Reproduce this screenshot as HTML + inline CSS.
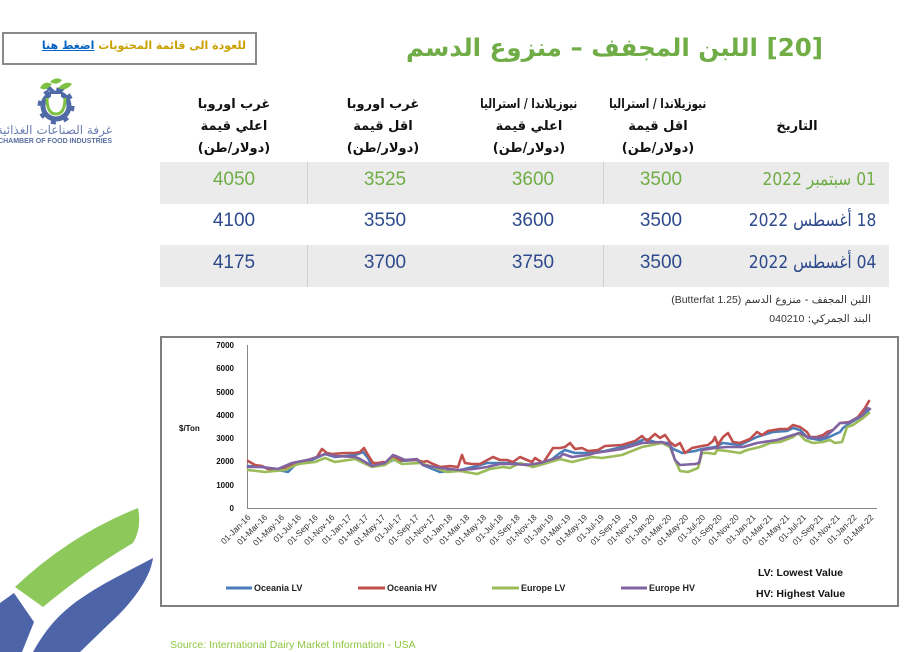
<!DOCTYPE html>
<html><head><meta charset="utf-8">
<style>
html,body{margin:0;padding:0;background:#fff;}
body{width:918px;height:652px;position:relative;overflow:hidden;font-family:"Liberation Sans","DejaVu Sans",sans-serif;}
.a{position:absolute;white-space:nowrap;}
.ar{font-family:"DejaVu Sans",sans-serif;direction:rtl;}
.hdr{font-family:"DejaVu Sans",sans-serif;font-weight:bold;font-size:13px;color:#111;text-align:center;direction:rtl;width:160px;margin-left:-80px;line-height:22px;}
.sq{display:inline-block;transform:scaleX(0.8);transform-origin:center;}
.num{font-family:"Liberation Sans",sans-serif;font-size:19px;width:80px;margin-left:-40px;text-align:center;}
.row{position:absolute;left:160px;width:729px;}
.dt{transform:scaleX(0.86);transform-origin:right center;}
</style></head><body>

<!-- back box -->
<div class="a" style="left:2px;top:32px;width:251px;height:29px;border:2px solid #8a8a8a;"></div>
<div class="a ar" style="right:672px;top:37px;font-size:11px;font-weight:bold;color:#c9a100;line-height:18px;">للعودة الى قائمة المحتويات <span style="color:#0563c1;text-decoration:underline;">اضغط هنا</span></div>

<!-- title -->
<div class="a ar" style="right:95px;top:30px;font-size:24.5px;font-weight:bold;color:#70ad47;line-height:36px;">[20] اللبن المجفف – منزوع الدسم</div>

<!-- column headers -->
<div class="a hdr" style="left:234px;top:94px;">غرب اوروبا<br>اعلي قيمة<br>(دولار/طن)</div>
<div class="a hdr" style="left:383px;top:94px;">غرب اوروبا<br>اقل قيمة<br>(دولار/طن)</div>
<div class="a hdr" style="left:529px;top:94px;"><span class="sq">نيوزيلاندا / استراليا</span><br>اعلي قيمة<br>(دولار/طن)</div>
<div class="a hdr" style="left:658px;top:94px;"><span class="sq">نيوزيلاندا / استراليا</span><br>اقل قيمة<br>(دولار/طن)</div>
<div class="a hdr" style="left:797px;top:116px;">التاريخ</div>

<!-- table rows -->
<div class="row" style="top:162px;height:42px;background:#ebebeb;"></div>
<div class="row" style="top:245px;height:42px;background:#ebebeb;"></div>
<div class="a" style="left:307px;top:162px;width:1px;height:42px;background:#d0d0d0;"></div>
<div class="a" style="left:603px;top:162px;width:1px;height:42px;background:#d0d0d0;"></div>
<div class="a" style="left:307px;top:245px;width:1px;height:42px;background:#d0d0d0;"></div>
<div class="a" style="left:603px;top:245px;width:1px;height:42px;background:#d0d0d0;"></div>

<div class="a num" style="left:234px;top:169px;color:#70ad47;">4050</div>
<div class="a num" style="left:385px;top:169px;color:#70ad47;">3525</div>
<div class="a num" style="left:533px;top:169px;color:#70ad47;">3600</div>
<div class="a num" style="left:661px;top:169px;color:#70ad47;">3500</div>
<div class="a ar dt" style="right:42px;top:169px;font-size:18px;color:#70ad47;">01 سبتمبر 2022</div>

<div class="a num" style="left:234px;top:210px;color:#2e4a8c;">4100</div>
<div class="a num" style="left:385px;top:210px;color:#2e4a8c;">3550</div>
<div class="a num" style="left:533px;top:210px;color:#2e4a8c;">3600</div>
<div class="a num" style="left:661px;top:210px;color:#2e4a8c;">3500</div>
<div class="a ar dt" style="right:42px;top:210px;font-size:18px;color:#2e4a8c;">18 أغسطس 2022</div>

<div class="a num" style="left:234px;top:252px;color:#2e4a8c;">4175</div>
<div class="a num" style="left:385px;top:252px;color:#2e4a8c;">3700</div>
<div class="a num" style="left:533px;top:252px;color:#2e4a8c;">3750</div>
<div class="a num" style="left:661px;top:252px;color:#2e4a8c;">3500</div>
<div class="a ar dt" style="right:42px;top:252px;font-size:18px;color:#2e4a8c;">04 أغسطس 2022</div>

<!-- notes -->
<div class="a ar" style="right:47px;top:292px;font-size:10.5px;color:#333;line-height:16px;">اللبن المجفف - منزوع الدسم <span style="font-family:'Liberation Sans';">(1.25 Butterfat)</span></div>
<div class="a ar" style="right:47px;top:311px;font-size:10.5px;color:#333;line-height:16px;">البند الجمركي: <span style="font-family:'Liberation Sans';">040210</span></div>

<!-- logo text -->
<div class="a ar" style="right:806px;top:123px;font-size:12px;color:#6a7fb0;line-height:14px;">غرفة الصناعات الغذائية</div>
<div class="a" style="right:806px;top:138px;font-size:7px;font-weight:bold;color:#5a6f9f;line-height:8px;">CHAMBER OF FOOD INDUSTRIES</div>

<!-- source -->
<div class="a" style="left:170px;top:638px;font-size:10.5px;color:#8dc63f;line-height:14px;">Source: International Dairy Market Information - USA</div>

<svg class="a" style="left:0;top:0;" width="918" height="652" viewBox="0 0 918 652" xmlns="http://www.w3.org/2000/svg">
  <!-- logo graphic -->
  <g>
    <circle cx="56" cy="106" r="13" fill="none" stroke="#4f6aa6" stroke-width="5"/>
    <circle cx="56" cy="106" r="16.5" fill="none" stroke="#4f6aa6" stroke-width="4" stroke-dasharray="5 8"/>
    <path d="M47,98 Q47,114 56,114 Q65,114 65,98" fill="none" stroke="#7dc142" stroke-width="3"/>
    <path d="M44,86 L56,98 L68,86 L64,84 L56,92 L48,84 Z" fill="#4f6aa6"/>
    <path d="M50,82 Q56,76 62,80 Q58,86 50,82 Z" fill="#7dc142"/>
    <path d="M58,88 Q66,80 72,84 Q66,92 58,88 Z" fill="#7dc142"/>
    <path d="M40,88 Q44,80 52,84 Q46,92 40,88 Z" fill="#7dc142"/>
    <rect x="51" y="94" width="10" height="6" fill="#fff"/>
  </g>

  <!-- decorative bottom-left -->
  <path d="M15,587 Q70,535 138,508 Q142,528 133,543 Q90,568 43,607 Z" fill="#8cc85a"/>
  <path d="M153,558 C150,580 130,605 110,623 L80,652 L33,652 C45,630 60,612 83,597 C105,582 125,573 153,558 Z" fill="#4d65a8"/>
  <path d="M0,603 L14,593 L34,622 L22,652 L0,652 Z" fill="#4d65a8"/>

  <!-- chart frame -->
  <rect x="161" y="337" width="737" height="269" fill="none" stroke="#7f7f7f" stroke-width="2"/>

  <!-- axes -->
  <line x1="247.5" y1="345" x2="247.5" y2="508.5" stroke="#868686" stroke-width="1"/>
  <line x1="247" y1="508.5" x2="877" y2="508.5" stroke="#868686" stroke-width="1"/>

  <g font-family="Liberation Sans, sans-serif" font-size="8" font-weight="bold" fill="#111" text-anchor="end">
    <text x="234" y="348">7000</text>
    <text x="234" y="371">6000</text>
    <text x="234" y="395">5000</text>
    <text x="234" y="418">4000</text>
    <text x="234" y="441">3000</text>
    <text x="234" y="464">2000</text>
    <text x="234" y="488">1000</text>
    <text x="234" y="511">0</text>
  </g>
  <text x="179" y="431" font-family="Liberation Sans, sans-serif" font-size="8" font-weight="bold" fill="#111">$/Ton</text>

  <!-- x labels -->
  <g font-family="Liberation Sans, sans-serif" font-size="8.4" fill="#333" text-anchor="end">
    <text transform="translate(251,518) rotate(-45)">01-Jan-16</text>
    <text transform="translate(267.8,518) rotate(-45)">01-Mar-16</text>
    <text transform="translate(284.7,518) rotate(-45)">01-May-16</text>
    <text transform="translate(301.5,518) rotate(-45)">01-Jul-16</text>
    <text transform="translate(318.4,518) rotate(-45)">01-Sep-16</text>
    <text transform="translate(335.2,518) rotate(-45)">01-Nov-16</text>
    <text transform="translate(352,518) rotate(-45)">01-Jan-17</text>
    <text transform="translate(368.9,518) rotate(-45)">01-Mar-17</text>
    <text transform="translate(385.7,518) rotate(-45)">01-May-17</text>
    <text transform="translate(402.6,518) rotate(-45)">01-Jul-17</text>
    <text transform="translate(419.4,518) rotate(-45)">01-Sep-17</text>
    <text transform="translate(436.2,518) rotate(-45)">01-Nov-17</text>
    <text transform="translate(453.1,518) rotate(-45)">01-Jan-18</text>
    <text transform="translate(469.9,518) rotate(-45)">01-Mar-18</text>
    <text transform="translate(486.8,518) rotate(-45)">01-May-18</text>
    <text transform="translate(503.6,518) rotate(-45)">01-Jul-18</text>
    <text transform="translate(520.4,518) rotate(-45)">01-Sep-18</text>
    <text transform="translate(537.3,518) rotate(-45)">01-Nov-18</text>
    <text transform="translate(554.1,518) rotate(-45)">01-Jan-19</text>
    <text transform="translate(571,518) rotate(-45)">01-Mar-19</text>
    <text transform="translate(587.8,518) rotate(-45)">01-May-19</text>
    <text transform="translate(604.6,518) rotate(-45)">01-Jul-19</text>
    <text transform="translate(621.5,518) rotate(-45)">01-Sep-19</text>
    <text transform="translate(638.3,518) rotate(-45)">01-Nov-19</text>
    <text transform="translate(655.2,518) rotate(-45)">01-Jan-20</text>
    <text transform="translate(672,518) rotate(-45)">01-Mar-20</text>
    <text transform="translate(688.8,518) rotate(-45)">01-May-20</text>
    <text transform="translate(705.7,518) rotate(-45)">01-Jul-20</text>
    <text transform="translate(722.5,518) rotate(-45)">01-Sep-20</text>
    <text transform="translate(739.4,518) rotate(-45)">01-Nov-20</text>
    <text transform="translate(756.2,518) rotate(-45)">01-Jan-21</text>
    <text transform="translate(773,518) rotate(-45)">01-Mar-21</text>
    <text transform="translate(789.9,518) rotate(-45)">01-May-21</text>
    <text transform="translate(806.7,518) rotate(-45)">01-Jul-21</text>
    <text transform="translate(823.6,518) rotate(-45)">01-Sep-21</text>
    <text transform="translate(840.4,518) rotate(-45)">01-Nov-21</text>
    <text transform="translate(857.2,518) rotate(-45)">01-Jan-22</text>
    <text transform="translate(874.1,518) rotate(-45)">01-Mar-22</text>
  </g>

  <!-- series -->
  <g fill="none" stroke-width="2.6" stroke-linejoin="round" stroke-linecap="round">
    <polyline stroke="#4a7ebb" points="248,466 262,467 278,470 288,472 295,465 312,460 325,454 335,457 355,455 363,452 368,458 372,466 385,464 393,460 400,461 417,460 423,465 440,472 460,470 473,467 487,463 500,463 513,463 533,465 547,463 560,453 565,450 575,453 588,453 605,451 622,447 638,442 645,439 655,442 668,443 673,449 678,451 682,453 695,451 702,449 715,447 723,443 740,445 757,437 763,435 773,432 787,431 793,428 800,430 808,438 820,440 827,438 840,432 843,428 850,423 860,417 867,413 869,409"/>
    <polyline stroke="#c0504d" points="248,461 255,465 262,466 268,469 278,470 288,467 295,463 308,460 317,457 322,449 327,453 332,454 345,453 355,453 360,452 364,448 368,455 373,463 378,463 383,462 388,463 393,458 400,460 410,460 417,460 423,462 427,461 433,464 440,467 450,466 458,467 462,455 465,463 472,464 480,464 493,457 500,460 507,460 513,462 520,457 527,460 532,462 535,458 543,463 553,448 560,448 565,447 570,443 575,449 582,448 588,451 598,450 605,446 622,445 635,441 642,436 647,441 655,434 660,438 665,435 670,442 675,446 680,443 685,453 692,448 702,446 708,445 713,441 715,437 718,445 723,437 728,433 733,442 740,443 750,439 757,432 762,435 768,431 780,429 788,429 793,425 800,427 807,432 810,437 817,437 823,435 827,432 833,430 840,423 850,422 858,417 865,408 869,401"/>
    <polyline stroke="#9bbb59" points="248,470 265,472 285,470 298,464 315,462 325,458 335,462 355,459 372,467 385,465 393,459 402,464 420,463 433,467 447,472 460,471 477,474 490,469 503,467 510,468 520,463 533,467 547,463 560,459 572,462 592,457 602,458 622,455 642,447 662,443 670,447 675,460 680,471 688,472 698,468 702,453 708,453 715,454 717,450 727,451 740,453 747,450 760,447 770,443 780,442 793,437 798,433 805,440 813,443 823,442 830,440 835,443 842,442 847,427 853,425 863,418 869,413"/>
    <polyline stroke="#8064a2" points="248,467 262,467 278,469 292,463 312,459 325,454 335,456 355,457 360,459 372,466 385,463 393,455 398,457 405,460 417,459 423,465 440,468 460,470 473,469 487,467 500,464 513,464 527,465 540,463 553,459 560,457 563,454 572,457 588,455 595,453 622,449 642,443 662,442 670,445 675,460 680,465 695,464 699,463 702,450 715,448 727,447 743,447 757,443 777,440 793,435 800,433 807,437 817,438 825,437 833,430 840,423 847,423 853,420 863,415 867,408 870,409"/>
  </g>

  <!-- legend -->
  <g stroke-width="3">
    <line x1="226" y1="588" x2="252" y2="588" stroke="#4a7ebb"/>
    <line x1="358" y1="588" x2="385" y2="588" stroke="#c0504d"/>
    <line x1="492" y1="588" x2="519" y2="588" stroke="#9bbb59"/>
    <line x1="621" y1="588" x2="647" y2="588" stroke="#8064a2"/>
  </g>
  <g font-family="Liberation Sans, sans-serif" font-size="9" font-weight="bold" fill="#222">
    <text x="254" y="591">Oceania LV</text>
    <text x="387" y="591">Oceania HV</text>
    <text x="521" y="591">Europe LV</text>
    <text x="649" y="591">Europe HV</text>
  </g>
  <g font-family="Liberation Sans, sans-serif" font-size="10.5" font-weight="bold" fill="#111">
    <text x="758" y="576">LV: Lowest Value</text>
    <text x="756" y="597">HV: Highest Value</text>
  </g>
</svg>
</body></html>
